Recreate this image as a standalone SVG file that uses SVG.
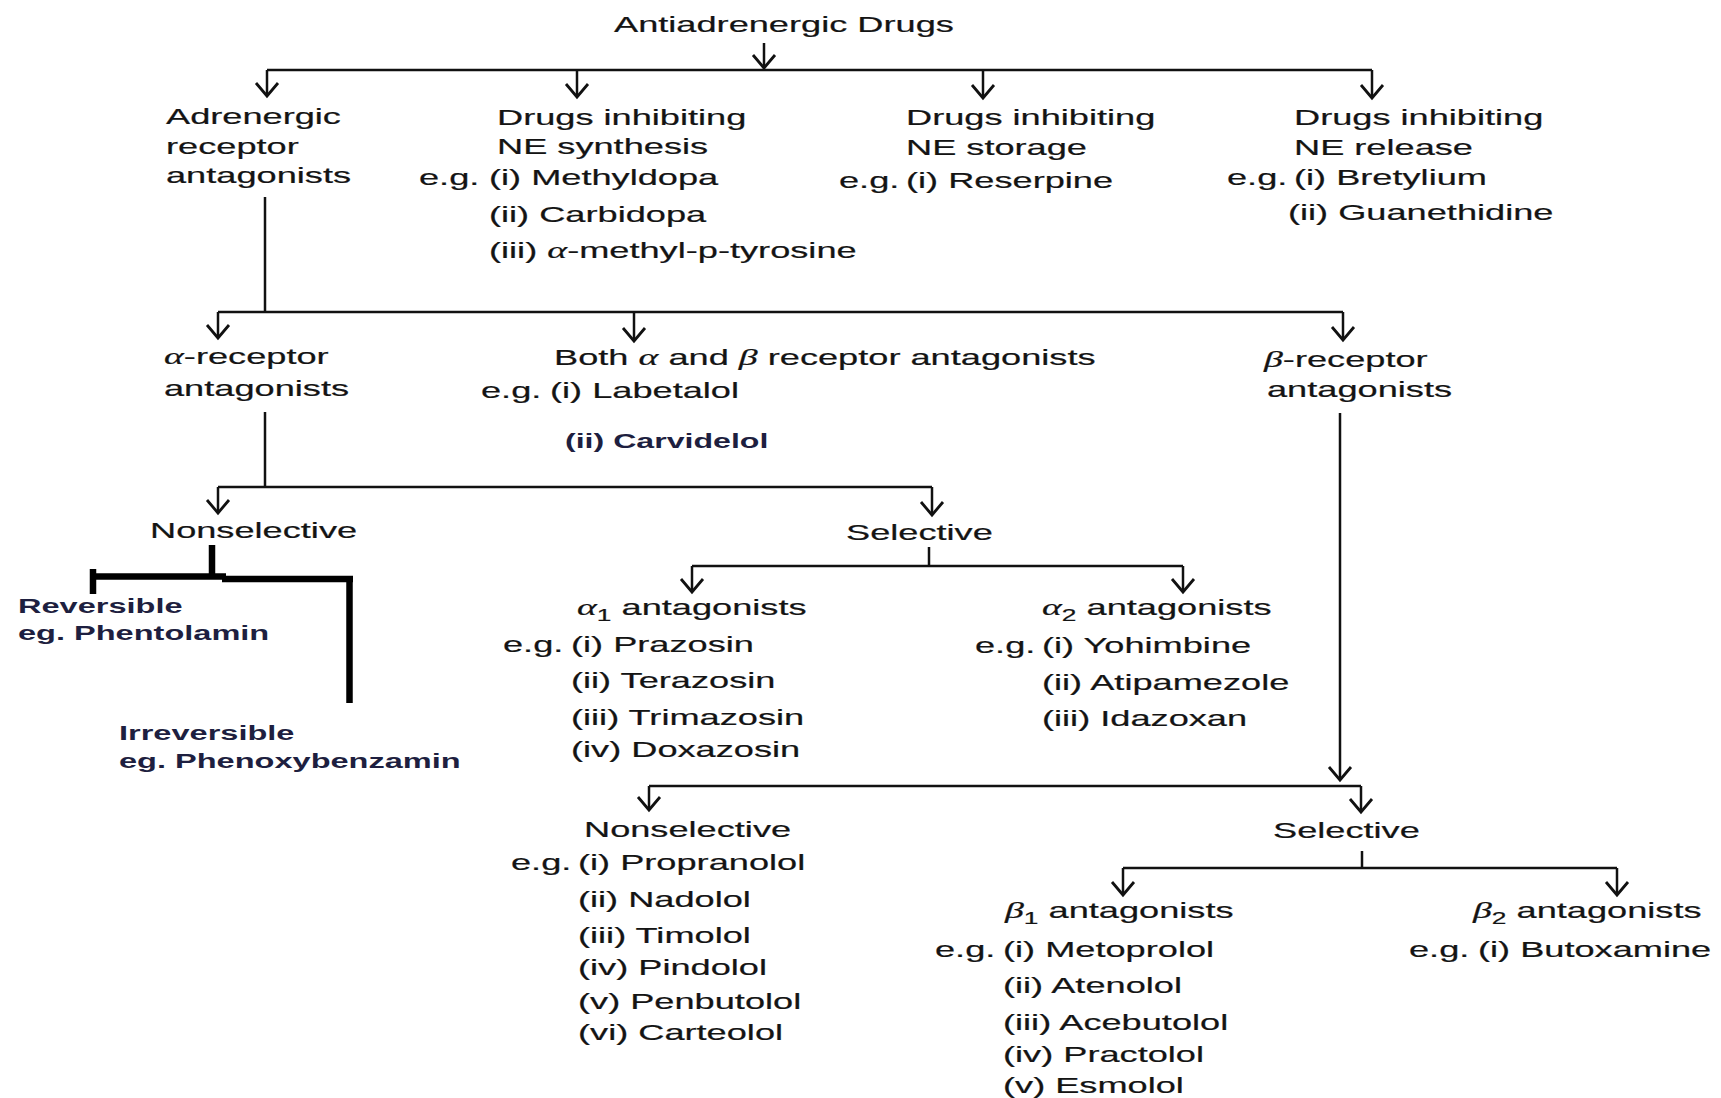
<svg xmlns="http://www.w3.org/2000/svg" width="1721" height="1098" viewBox="0 0 1721 1098">
<style>
.t{font-family:"Liberation Sans",Arial,sans-serif;font-size:22px;fill:#141414;stroke:#141414;stroke-width:0.2}
.gr{font-family:"Liberation Serif","Times New Roman",serif;font-style:italic;font-size:23px}
.sub{font-size:16px}
.b{font-family:"Liberation Sans",Arial,sans-serif;font-size:21px;font-weight:bold;fill:#1e1f40}
.ln{stroke:#111;stroke-width:2.5;fill:none}
.ar{stroke:#111;stroke-width:2.5;fill:none;marker-end:url(#v)}
.tk{stroke:#000;stroke-width:6.5;fill:none}
</style>
<defs>
<marker id="v" markerUnits="userSpaceOnUse" markerWidth="40" markerHeight="40" refX="0" refY="0" orient="auto" overflow="visible">
<path d="M-13,-11 L0,0 L-13,11" fill="none" stroke="#111" stroke-width="2.8"/>
</marker>
</defs>
<rect width="1721" height="1098" fill="#fff"/>

<g id="connectors">
<path class="ar" d="M764,43 V68"/>
<path class="ln" d="M267,70 H1372"/>
<path class="ar" d="M267,70 V96"/>
<path class="ar" d="M577,70 V97"/>
<path class="ar" d="M983,70 V98"/>
<path class="ar" d="M1372,70 V98"/>
<path class="ln" d="M265,197 V312"/>
<path class="ln" d="M218,312 H1343"/>
<path class="ar" d="M218,312 V338"/>
<path class="ar" d="M634,312 V341"/>
<path class="ar" d="M1343,312 V340"/>
<path class="ln" d="M265,412 V487"/>
<path class="ln" d="M218,487 H932"/>
<path class="ar" d="M218,487 V513"/>
<path class="ar" d="M932,487 V515"/>
<path class="tk" d="M212,545 V578"/>
<path class="tk" d="M90,576.5 H226"/>
<path class="tk" d="M222,579 H353"/>
<path class="tk" d="M93,569 V594"/>
<path class="tk" d="M349.5,576 V703"/>
<path class="ln" d="M929,547 V566"/>
<path class="ln" d="M692,566 H1183"/>
<path class="ar" d="M692,566 V592"/>
<path class="ar" d="M1183,566 V592"/>
<path class="ar" d="M1340,413 V780"/>
<path class="ln" d="M649,786 H1361"/>
<path class="ar" d="M649,786 V810"/>
<path class="ar" d="M1361,786 V812"/>
<path class="ln" d="M1362,851 V868"/>
<path class="ln" d="M1123,868 H1617"/>
<path class="ar" d="M1123,868 V895"/>
<path class="ar" d="M1617,868 V895"/>
</g>

<g id="root">
<text class="t" transform="matrix(1.645,0,0,1,614,32)">Antiadrenergic Drugs</text>
</g>

<g id="adrenergic-receptor-antagonists">
<text class="t" transform="matrix(1.645,0,0,1,166,124)">Adrenergic</text>
<text class="t" transform="matrix(1.645,0,0,1,166,154)">receptor</text>
<text class="t" transform="matrix(1.645,0,0,1,166,183)">antagonists</text>
</g>

<g id="ne-synthesis">
<text class="t" transform="matrix(1.645,0,0,1,497,125)">Drugs inhibiting</text>
<text class="t" transform="matrix(1.645,0,0,1,497,154)">NE synthesis</text>
<text class="t" transform="matrix(1.645,0,0,1,419,185)">e.g.</text>
<text class="t" transform="matrix(1.645,0,0,1,489,185)">(i) Methyldopa</text>
<text class="t" transform="matrix(1.645,0,0,1,489,222)">(ii) Carbidopa</text>
<text class="t" transform="matrix(1.645,0,0,1,489,258)">(iii) <tspan class="gr">α</tspan>-methyl-p-tyrosine</text>
</g>

<g id="ne-storage">
<text class="t" transform="matrix(1.645,0,0,1,906,125)">Drugs inhibiting</text>
<text class="t" transform="matrix(1.645,0,0,1,906,155)">NE storage</text>
<text class="t" transform="matrix(1.645,0,0,1,839,188)">e.g.</text>
<text class="t" transform="matrix(1.645,0,0,1,906,188)">(i) Reserpine</text>
</g>

<g id="ne-release">
<text class="t" transform="matrix(1.645,0,0,1,1294,125)">Drugs inhibiting</text>
<text class="t" transform="matrix(1.645,0,0,1,1294,155)">NE release</text>
<text class="t" transform="matrix(1.645,0,0,1,1227,185)">e.g.</text>
<text class="t" transform="matrix(1.645,0,0,1,1294,185)">(i) Bretylium</text>
<text class="t" transform="matrix(1.645,0,0,1,1288,220)">(ii) Guanethidine</text>
</g>

<g id="alpha-receptor-antagonists">
<text class="t" transform="matrix(1.645,0,0,1,164,364)"><tspan class="gr">α</tspan>-receptor</text>
<text class="t" transform="matrix(1.645,0,0,1,164,396)">antagonists</text>
</g>

<g id="alpha-beta-antagonists">
<text class="t" transform="matrix(1.645,0,0,1,554,365)">Both <tspan class="gr">α</tspan> and <tspan class="gr">β</tspan> receptor antagonists</text>
<text class="t" transform="matrix(1.645,0,0,1,481,398)">e.g.</text>
<text class="t" transform="matrix(1.645,0,0,1,550,398)">(i) Labetalol</text>
<text class="b" transform="matrix(1.53,0,0,1,565,448)">(ii) Carvidelol</text>
</g>

<g id="beta-receptor-antagonists">
<text class="t" transform="matrix(1.645,0,0,1,1264,367)"><tspan class="gr">β</tspan>-receptor</text>
<text class="t" transform="matrix(1.645,0,0,1,1267,397)">antagonists</text>
</g>

<g id="alpha-nonselective">
<text class="t" transform="matrix(1.645,0,0,1,150,538)">Nonselective</text>
</g>

<g id="alpha-reversible">
<text class="b" transform="matrix(1.55,0,0,1,18,613)">Reversible</text>
<text class="b" transform="matrix(1.55,0,0,1,18,640)">eg. Phentolamin</text>
</g>

<g id="alpha-irreversible">
<text class="b" transform="matrix(1.55,0,0,1,119,740)">Irreversible</text>
<text class="b" transform="matrix(1.55,0,0,1,119,768)">eg. Phenoxybenzamin</text>
</g>

<g id="alpha-selective">
<text class="t" transform="matrix(1.645,0,0,1,846,540)">Selective</text>
</g>

<g id="alpha1-antagonists">
<text class="t" transform="matrix(1.645,0,0,1,577,615)"><tspan class="gr">α</tspan><tspan class="sub" dy="6">1</tspan><tspan dy="-6"> antagonists</tspan></text>
<text class="t" transform="matrix(1.645,0,0,1,503,652)">e.g.</text>
<text class="t" transform="matrix(1.645,0,0,1,571,652)">(i) Prazosin</text>
<text class="t" transform="matrix(1.645,0,0,1,571,688)">(ii) Terazosin</text>
<text class="t" transform="matrix(1.645,0,0,1,571,725)">(iii) Trimazosin</text>
<text class="t" transform="matrix(1.645,0,0,1,571,757)">(iv) Doxazosin</text>
</g>

<g id="alpha2-antagonists">
<text class="t" transform="matrix(1.645,0,0,1,1042,615)"><tspan class="gr">α</tspan><tspan class="sub" dy="6">2</tspan><tspan dy="-6"> antagonists</tspan></text>
<text class="t" transform="matrix(1.645,0,0,1,975,653)">e.g.</text>
<text class="t" transform="matrix(1.645,0,0,1,1042,653)">(i) Yohimbine</text>
<text class="t" transform="matrix(1.645,0,0,1,1042,690)">(ii) Atipamezole</text>
<text class="t" transform="matrix(1.645,0,0,1,1042,726)">(iii) Idazoxan</text>
</g>

<g id="beta-nonselective">
<text class="t" transform="matrix(1.645,0,0,1,584,837)">Nonselective</text>
<text class="t" transform="matrix(1.645,0,0,1,511,870)">e.g.</text>
<text class="t" transform="matrix(1.645,0,0,1,578,870)">(i) Propranolol</text>
<text class="t" transform="matrix(1.645,0,0,1,578,907)">(ii) Nadolol</text>
<text class="t" transform="matrix(1.645,0,0,1,578,943)">(iii) Timolol</text>
<text class="t" transform="matrix(1.645,0,0,1,578,975)">(iv) Pindolol</text>
<text class="t" transform="matrix(1.645,0,0,1,578,1009)">(v) Penbutolol</text>
<text class="t" transform="matrix(1.645,0,0,1,578,1040)">(vi) Carteolol</text>
</g>

<g id="beta-selective">
<text class="t" transform="matrix(1.645,0,0,1,1273,838)">Selective</text>
</g>

<g id="beta1-antagonists">
<text class="t" transform="matrix(1.645,0,0,1,1005,918)"><tspan class="gr">β</tspan><tspan class="sub" dy="6">1</tspan><tspan dy="-6"> antagonists</tspan></text>
<text class="t" transform="matrix(1.645,0,0,1,935,957)">e.g.</text>
<text class="t" transform="matrix(1.645,0,0,1,1003,957)">(i) Metoprolol</text>
<text class="t" transform="matrix(1.645,0,0,1,1003,993)">(ii) Atenolol</text>
<text class="t" transform="matrix(1.645,0,0,1,1003,1030)">(iii) Acebutolol</text>
<text class="t" transform="matrix(1.645,0,0,1,1003,1062)">(iv) Practolol</text>
<text class="t" transform="matrix(1.645,0,0,1,1003,1093)">(v) Esmolol</text>
</g>

<g id="beta2-antagonists">
<text class="t" transform="matrix(1.645,0,0,1,1473,918)"><tspan class="gr">β</tspan><tspan class="sub" dy="6">2</tspan><tspan dy="-6"> antagonists</tspan></text>
<text class="t" transform="matrix(1.645,0,0,1,1409,957)">e.g.</text>
<text class="t" transform="matrix(1.645,0,0,1,1478,957)">(i) Butoxamine</text>
</g>
</svg>
